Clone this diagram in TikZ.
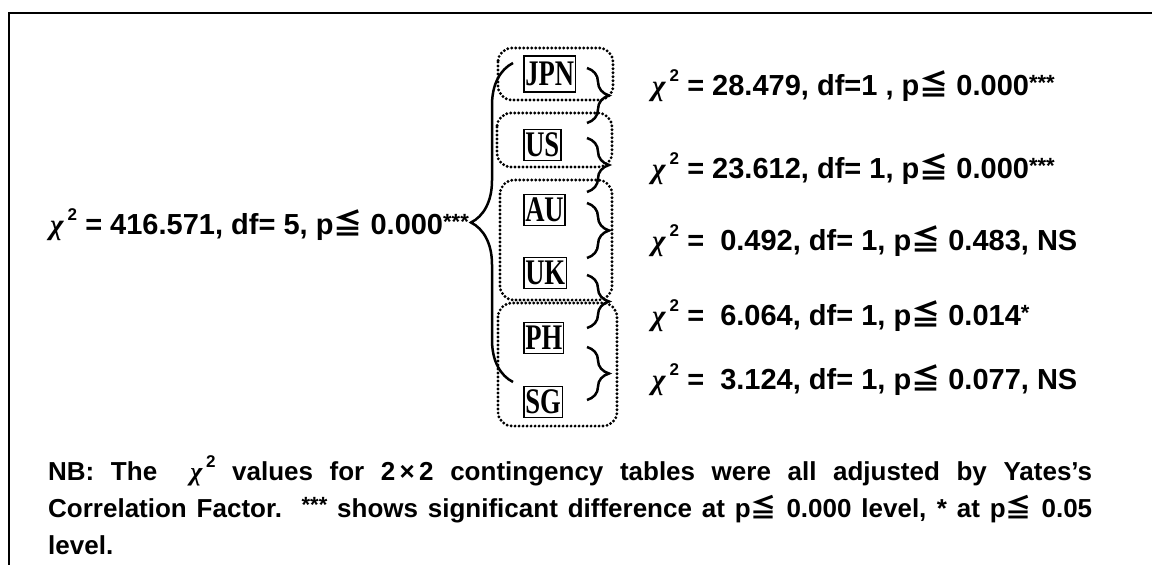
\documentclass[tikz,border=0pt]{standalone}
\usepackage{fontspec}
\usepackage{graphicx}
\setmainfont{Liberation Sans}
\newfontfamily\serifcc{Liberation Serif}
\newfontfamily\jpfont{Noto Sans CJK JP}
\usetikzlibrary{decorations.pathreplacing}

% chi-square symbol, "less than or equal" sign and raised stars
\newcommand{\chisym}{{\serifcc\itshape\bfseries χ}\hspace{0.14em}\raisebox{0.48em}{\fontsize{17}{17}\selectfont 2}}
\newcommand{\lesym}{{\jpfont ≦}}
\newcommand{\stars}[1]{\raisebox{0.16em}{\fontsize{22}{22}\selectfont #1}}
\newcommand{\cc}[1]{\scalebox{0.74}[1]{#1}}

\tikzset{
  lbl/.style={anchor=base west, inner sep=0pt, font=\fontsize{29}{34}\selectfont\bfseries},
  note/.style={anchor=base west, inner sep=0pt, font=\fontsize{26}{32}\selectfont\bfseries},
  cbox/.style={draw, line width=1.5pt, anchor=west, inner sep=1.5pt,
               minimum height=31pt, font=\fontsize{36}{36}\selectfont\serifcc\bfseries},
  grp/.style={line width=3.2pt, line cap=round, dash pattern=on 0pt off 4pt,
              rounded corners=14pt},
  smallbrace/.style={decorate, decoration={brace, amplitude=22pt}, line width=2.5pt},
  bigbrace/.style={decorate, decoration={brace, amplitude=42pt}, line width=2.5pt},
}

\begin{document}
\begin{tikzpicture}[x=1pt, y=-1pt]
\useasboundingbox (0,0) rectangle (1152,565);

% open frame: top and left edges
\draw[line width=2pt] (1152,13) -- (9,13) -- (9,565);

% grouping of the countries
\draw[grp] (498,48) rectangle (613,100);
\draw[grp] (497,113) rectangle (612,167);
\draw[grp] (500,180) rectangle (612,300);
\draw[grp] (498,303) rectangle (617,426);

% countries
\node[cbox, minimum height=36pt] (jpn) at (523,74) {\cc{JPN}};
\node[cbox] (us) at (523,145) {\cc{US}};
\node[cbox] (au) at (523,210) {\cc{AU}};
\node[cbox] (uk) at (523,273) {\cc{UK}};
\node[cbox] (ph) at (523,338) {\cc{PH}};
\node[cbox] (sg) at (523,402) {\cc{SG}};

% overall test
\node[lbl] (total) at (50,234) {\chisym\ = 416.571, df= 5, p\lesym\ 0.000\stars{***}};
\coordinate (bigtop) at (513,63);
\coordinate (bigbot) at (513,382);
\draw[bigbrace] (bigbot) -- (bigtop);

% pairwise tests
\foreach \t/\b in {68/123, 138/192, 203/258, 275/328, 347/400}{
  \draw[smallbrace] (587,\t) -- (587,\b);
}
\node[lbl] (p1) at (652,95) {\chisym\ = 28.479, df=1 , p\lesym\ 0.000\stars{***}};
\node[lbl] (p2) at (652,178) {\chisym\ = 23.612, df= 1, p\lesym\ 0.000\stars{***}};
\node[lbl] (p3) at (652,250) {\chisym\ =\ \ 0.492, df= 1, p\lesym\ 0.483, NS};
\node[lbl] (p4) at (652,325) {\chisym\ =\ \ 6.064, df= 1, p\lesym\ 0.014\stars{*}};
\node[lbl] (p5) at (652,389) {\chisym\ =\ \ 3.124, df= 1, p\lesym\ 0.077, NS};

% note
\node[note] (nb1) at (48,480) {\makebox[1044pt][s]{NB: The \ \chisym\ values for 2\,×\,2 contingency tables were all adjusted by Yates’s}};
\node[note] (nb2) at (48,517) {\makebox[1044pt][s]{Correlation Factor.\ \ \stars{***} shows significant difference at p\lesym\ 0.000 level, * at p\lesym\ 0.05}};
\node[note] (nb3) at (48,554) {level.};
\end{tikzpicture}
\end{document}
